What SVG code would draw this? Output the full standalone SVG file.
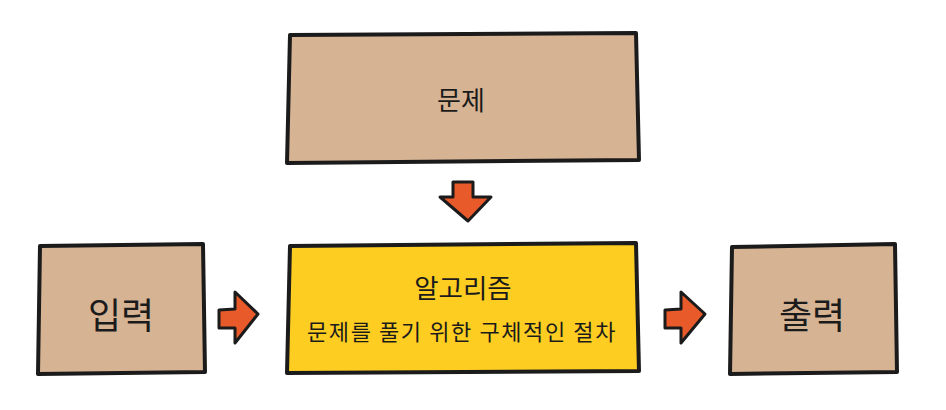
<svg xmlns="http://www.w3.org/2000/svg" width="946" height="410" viewBox="0 0 946 410">
<style>
.box{stroke:#1b1b1b;stroke-width:4;stroke-linejoin:round}
.tan{fill:#D6B393}
.yel{fill:#FDCD22}
.arr{fill:#E95A2B;stroke:#1b1b1b;stroke-width:3;stroke-linejoin:round}
text{font-family:"Noto Sans CJK KR","Noto Sans",sans-serif;fill:#1b1b1b;text-anchor:middle;dominant-baseline:central}
</style>
<rect width="946" height="410" fill="#ffffff"/>
<g id="problem">
<path class="box tan" d="M290 35 L636 33 L639 160 L287 163 Z"/>
<text x="461" y="98" font-size="26">문제</text>
</g>
<g id="input">
<path class="box tan" d="M40 246 L203 244 L205 372 L38 374 Z"/>
<text x="121" y="313" font-size="36">입력</text>
</g>
<g id="algorithm">
<path class="box yel" d="M290 246 L636 243 L639 371 L287 373 Z"/>
<text x="463" y="286" font-size="26.5">알고리즘</text>
<text x="462" y="330" font-size="22" letter-spacing="1.6">문제를 풀기 위한 구체적인 절차</text>
</g>
<g id="output">
<path class="box tan" d="M732 247 L895 244 L897 372 L730 374 Z"/>
<text x="812" y="313" font-size="36">출력</text>
</g>
<g id="connectors">
<path class="arr" d="M453 182 L473 182 L473 197 L491 197 L468 221 L440 197 L453 197 Z"/>
<path class="arr" d="M219 310 L235 309 L235 292 L258 314 L235 343 L235 328 L219 328 Z"/>
<path class="arr" d="M665 310 L681 309 L681 292 L705 314 L681 343 L681 328 L665 328 Z"/>
</g>
</svg>
